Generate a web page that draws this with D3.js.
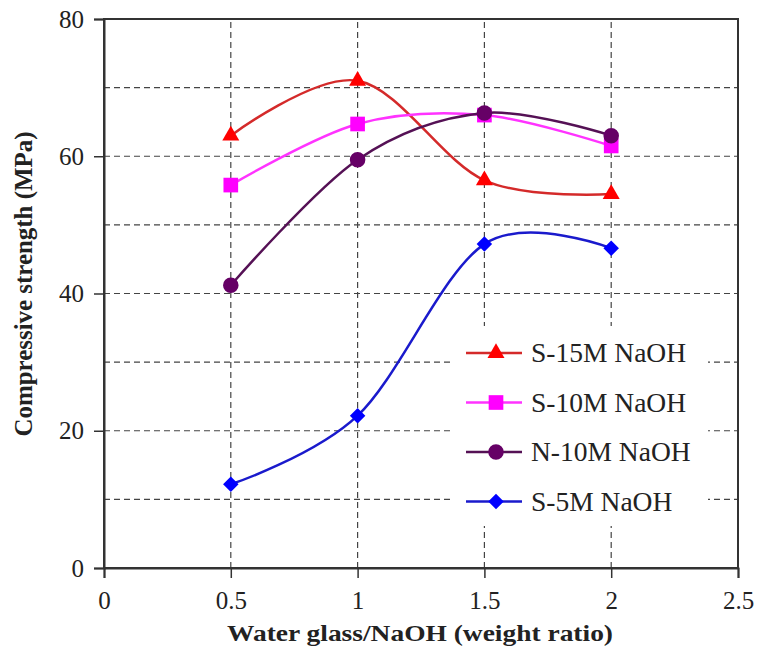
<!DOCTYPE html>
<html><head><meta charset="utf-8">
<script src="https://cdn.jsdelivr.net/npm/d3@7"></script>
<style>body{margin:0;background:#fff}svg{display:block}</style>
</head><body>
<svg id="c" width="761" height="652"></svg>
<script>
const xValues = [0.5, 1, 1.5, 2];
const seriesNames = ["S-15M NaOH", "S-10M NaOH", "N-10M NaOH", "S-5M NaOH"];
const s15M = [63.0, 71.0, 56.5, 54.5];
const s10M = [55.8, 64.7, 66.0, 61.5];
const n10M = [41.2, 59.5, 66.3, 63.0];
const s5M = [12.2, 22.2, 47.2, 46.6];
const xTicks = [0, 0.5, 1, 1.5, 2, 2.5];
const yTicks = [0, 20, 40, 60, 80];
const yGrid = [10, 20, 30, 40, 50, 60, 70];
const xGrid = [0.5, 1, 1.5, 2];

const series = [
  {name: seriesNames[0], values: s15M, line: "#d42a2a", fill: "#ff0000", sym: d3.symbolTriangle, size: 125, rot: 0},
  {name: seriesNames[1], values: s10M, line: "#ff33ff", fill: "#ff00ff", sym: d3.symbolSquare, size: 215, rot: 0},
  {name: seriesNames[2], values: n10M, line: "#551155", fill: "#660066", sym: d3.symbolCircle, size: 190, rot: 0},
  {name: seriesNames[3], values: s5M, line: "#1a1acc", fill: "#0000ff", sym: d3.symbolSquare, size: 120, rot: 45}
];

const FONT = '"Liberation Serif"';
const svg = d3.select("#c");
const x = d3.scaleLinear().domain([0, 2.5]).range([104, 738]);
const y = d3.scaleLinear().domain([0, 80]).range([568, 19]);

// grid
const g = svg.append("g");
g.selectAll(".hg").data(yGrid).join("line")
  .attr("x1", x(0)).attr("x2", x(2.5)).attr("y1", d => y(d)).attr("y2", d => y(d))
  .attr("stroke", "#444").attr("stroke-width", 1.2).attr("stroke-dasharray", "6,4");
g.selectAll(".vg").data(xGrid).join("line")
  .attr("y1", y(0)).attr("y2", y(80)).attr("x1", d => x(d)).attr("x2", d => x(d))
  .attr("stroke", "#444").attr("stroke-width", 1.2).attr("stroke-dasharray", "6,4");

// frame
svg.append("rect").attr("x", x(0)).attr("y", y(80)).attr("width", x(2.5) - x(0)).attr("height", y(0) - y(80))
  .attr("fill", "none").attr("stroke", "#333").attr("stroke-width", 2);

// axes
const xAxis = d3.axisBottom(x).tickValues(xTicks).tickFormat(d3.format("")).tickSize(10).tickPadding(13);
const yAxis = d3.axisLeft(y).tickValues(yTicks).tickSize(10).tickPadding(10);
const xa = svg.append("g").attr("transform", `translate(0,${y(0)})`).call(xAxis);
const ya = svg.append("g").attr("transform", `translate(${x(0)},0)`).call(yAxis);
[xa, ya].forEach(a => {
  a.attr("font-family", null);
  a.select(".domain").attr("stroke", "#333").attr("stroke-width", 2);
  a.selectAll(".tick line").attr("stroke", "#333").attr("stroke-width", 1.5);
  a.selectAll("text").style("font-family", FONT).attr("font-size", 25).attr("fill", "#222");
});

// titles
svg.append("text").attr("x", 420).attr("y", 641).attr("text-anchor", "middle")
  .style("font-family", FONT).attr("font-weight", "bold").attr("font-size", 24).attr("fill", "#222")
  .attr("textLength", 386).attr("lengthAdjust", "spacingAndGlyphs")
  .text("Water glass/NaOH (weight ratio)");
svg.append("text").attr("transform", "translate(32,284) rotate(-90)").attr("text-anchor", "middle")
  .style("font-family", FONT).attr("font-weight", "bold").attr("font-size", 25).attr("fill", "#222")
  .attr("textLength", 305).attr("lengthAdjust", "spacingAndGlyphs")
  .text("Compressive strength (MPa)");

// lines
const line = d3.line().x((d, i) => x(xValues[i])).y(d => y(d)).curve(d3.curveCatmullRom.alpha(0));
series.forEach(s => {
  svg.append("path").attr("d", line(s.values)).attr("fill", "none")
    .attr("stroke", s.line).attr("stroke-width", 2.5);
});
series.forEach(s => {
  svg.selectAll(null).data(s.values).join("path")
    .attr("transform", (d, i) => `translate(${x(xValues[i])},${y(d)}) rotate(${s.rot})`)
    .attr("d", d3.symbol().type(s.sym).size(s.size)).attr("fill", s.fill);
});

// legend
const lg = svg.append("g");
lg.append("rect").attr("x", 450).attr("y", 326).attr("width", 258).attr("height", 200).attr("fill", "#fff");
series.forEach((s, i) => {
  const cy = 353 + i * 49.5;
  lg.append("line").attr("x1", 466).attr("x2", 522).attr("y1", cy).attr("y2", cy)
    .attr("stroke", s.line).attr("stroke-width", 2.5);
  lg.append("path").attr("transform", `translate(496,${cy}) rotate(${s.rot})`)
    .attr("d", d3.symbol().type(s.sym).size(s.size)).attr("fill", s.fill);
  lg.append("text").attr("x", 531).attr("y", cy + 9).style("font-family", FONT).attr("font-size", 27.5)
    .attr("fill", "#222").text(s.name);
});
</script>
</body></html>
